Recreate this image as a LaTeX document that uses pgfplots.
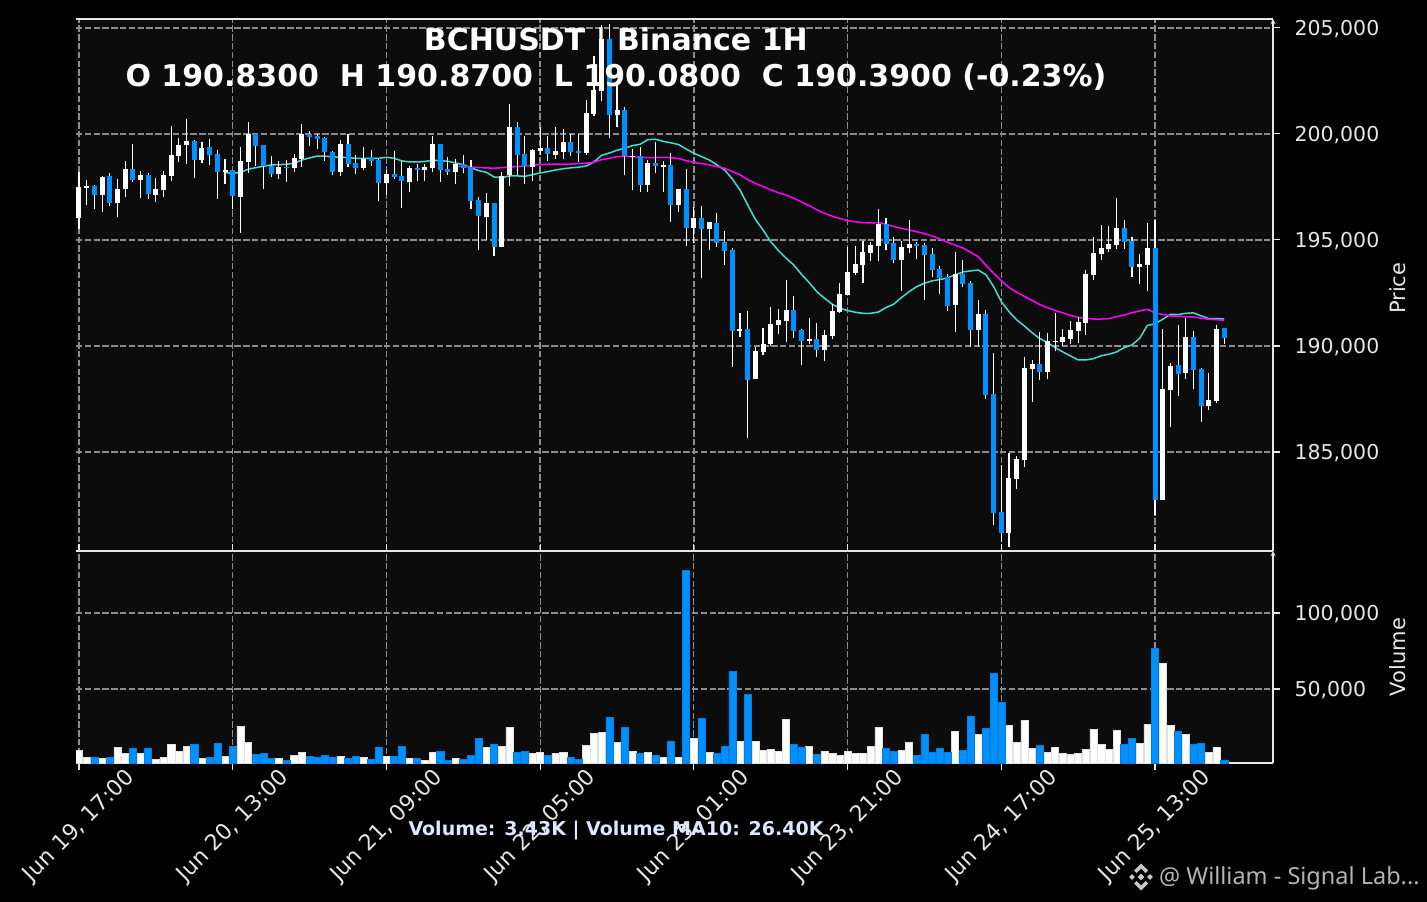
\documentclass[border=0pt]{standalone}
\usepackage{fontspec}
\setmainfont{DejaVu Sans}
\newfontfamily\wmfont{Noto Sans}
\usepackage{pgfplots}
\usepackage{pgfplotstable}
\pgfplotsset{compat=1.18}

\definecolor{panel}{HTML}{0C0C0C}
\definecolor{dnblue}{HTML}{0090FF}
\definecolor{gridc}{HTML}{8C8C8C}
\definecolor{spine}{HTML}{E6E6E6}
\definecolor{ma20}{HTML}{40E0D0}
\definecolor{ma50}{HTML}{FF00FF}
\definecolor{wmtext}{HTML}{B4B4B4}
\definecolor{wmlogo}{HTML}{C8C8C8}

% x open high low close volume, white candles
\pgfplotstableread{
x o h l c v
0 196.02 198.21 195.53 197.48 9870
1 197.44 197.85 196.65 197.53 5040
3 197.11 198.00 196.34 197.96 4390
5 196.73 197.89 196.08 197.39 11840
6 197.39 198.71 197.03 198.33 7890
8 197.81 198.27 197.00 198.05 7890
10 197.11 197.94 196.79 197.39 3950
11 197.34 198.27 197.03 198.05 5260
12 198.00 200.39 197.78 198.99 13820
13 198.95 199.83 198.68 199.47 9210
14 199.47 200.72 198.58 199.65 12500
16 198.76 199.61 198.63 199.32 4600
19 198.19 198.81 197.64 198.29 5920
21 197.01 199.37 195.33 198.71 25660
22 198.66 200.58 198.16 199.98 15130
26 198.10 198.74 197.89 198.43 4600
28 198.38 199.03 198.21 198.85 6580
29 198.81 200.46 198.44 199.98 8550
34 198.19 199.73 198.02 199.51 5920
37 198.38 199.37 198.29 198.81 5260
40 197.69 198.29 197.11 198.10 5920
43 197.72 198.49 197.26 198.38 4600
45 198.29 198.60 197.78 198.43 3290
46 198.38 199.92 198.21 199.51 8550
49 198.19 198.81 197.64 198.57 4600
53 196.07 197.20 194.98 196.73 11840
55 194.65 198.21 194.65 198.00 12500
56 198.05 201.43 197.56 200.31 25000
59 198.43 199.31 197.78 199.23 7890
60 199.18 200.33 198.99 199.32 8550
62 198.99 200.35 198.84 199.18 7890
63 199.14 200.25 198.84 199.61 8550
66 199.09 201.62 199.01 200.97 13160
67 200.93 203.69 200.85 202.06 21050
68 202.01 205.13 201.54 204.47 21710
70 200.88 202.37 200.33 201.12 15130
72 198.90 199.31 197.34 198.95 9210
74 197.58 198.76 197.26 198.62 8550
76 198.44 198.73 197.28 198.54 5260
78 196.65 197.41 196.34 197.41 5260
80 195.57 196.56 194.84 196.04 17760
82 195.52 195.85 194.54 195.85 8550
86 190.71 191.54 190.44 190.80 15790
88 188.44 189.97 188.44 189.76 15790
89 189.72 190.83 189.58 190.09 9870
90 190.09 191.82 190.00 191.04 10530
91 190.99 191.73 190.57 191.23 9210
92 191.18 193.10 190.20 191.70 30260
95 190.24 191.31 190.09 190.33 12500
97 189.81 190.74 189.31 190.52 9210
98 190.47 191.98 190.31 191.65 7890
99 191.60 192.96 191.56 192.45 6580
100 192.41 194.67 192.41 193.49 9210
101 193.44 194.70 193.35 193.87 7890
102 193.82 194.94 192.99 194.43 7890
103 194.39 194.92 193.99 194.76 12500
104 194.72 196.45 194.03 195.75 25000
107 194.06 194.95 192.61 194.67 9870
108 194.62 195.93 194.40 194.81 15130
114 191.93 194.45 190.68 193.40 22370
117 190.75 192.15 189.97 191.51 20390
121 181.18 184.94 180.53 183.77 26320
122 183.73 184.81 183.27 184.67 15130
123 184.62 189.47 184.28 188.96 29610
124 188.92 189.34 187.37 189.15 11180
126 188.77 190.60 188.46 190.24 8550
127 190.19 191.54 189.78 190.24 11840
128 190.19 190.79 190.00 190.42 7890
129 190.33 191.18 190.11 190.75 7240
130 190.71 191.38 190.16 191.13 7890
131 191.08 193.58 190.53 193.40 10530
132 193.35 195.13 193.11 194.39 23680
133 194.34 195.69 194.07 194.62 13820
134 194.58 195.64 194.45 194.81 10530
135 194.76 196.97 194.59 195.57 23030
138 193.73 194.32 192.94 193.87 14470
139 193.82 195.79 192.58 194.62 26970
141 182.74 190.79 182.74 187.97 67110
142 187.92 189.20 186.20 189.06 26320
144 188.73 191.31 188.46 190.42 20390
147 187.17 188.71 186.98 187.45 8550
148 187.41 190.97 187.30 190.80 11840
}\upbars

% same columns, blue candles
\pgfplotstableread{
x o h l c v
2 197.53 197.58 196.46 197.11 5040
4 198.00 198.18 196.60 196.73 5040
7 198.33 199.54 197.74 197.81 11180
9 198.05 198.18 196.93 197.15 11180
15 199.65 199.73 197.92 198.77 13820
17 199.37 199.78 198.54 198.99 5260
18 199.04 199.26 196.93 198.19 14470
20 198.29 198.32 196.48 197.06 12500
23 199.98 200.02 198.47 199.42 7240
24 199.47 199.50 197.41 198.47 7890
25 198.47 198.95 197.97 198.10 4600
27 198.43 198.79 197.74 198.38 3290
30 199.98 200.16 199.43 199.84 5920
31 199.89 200.02 199.29 199.75 5260
32 199.80 199.87 198.73 199.14 6580
33 199.14 199.18 198.07 198.19 5260
35 199.51 200.02 198.44 198.57 4600
36 198.62 198.99 198.11 198.38 5920
38 198.92 199.26 198.49 198.71 3950
39 198.76 198.81 196.86 197.69 11840
41 198.10 199.18 197.89 197.96 5920
42 198.00 198.71 196.53 197.77 12500
44 198.38 198.60 197.78 198.29 4600
47 199.51 199.51 197.74 198.29 9210
48 198.33 198.90 198.07 198.19 3290
50 198.57 198.99 198.16 198.40 3950
51 198.43 198.76 196.48 196.82 6580
52 196.87 197.01 194.54 196.12 17760
54 196.73 196.73 194.26 194.65 13820
57 200.31 200.55 198.05 198.99 8550
58 199.04 199.92 197.66 198.47 9210
61 199.32 199.92 198.73 199.04 6580
64 199.61 200.02 198.96 199.14 5260
65 199.18 200.02 198.68 199.09 3950
69 204.47 205.17 199.83 200.88 31580
71 201.12 201.27 198.05 198.95 25000
73 198.95 199.36 197.26 197.58 7890
75 198.62 199.64 198.16 198.47 6580
77 198.54 199.09 195.86 196.65 15790
79 197.41 198.33 194.73 195.57 128290
81 196.04 196.59 193.19 195.52 30920
83 195.80 196.26 194.67 194.86 7890
84 194.91 195.41 193.84 194.48 12500
85 194.53 194.62 189.03 190.71 61840
87 190.80 191.64 185.64 188.40 46710
93 191.70 192.34 190.39 190.71 13820
94 190.75 190.80 189.12 190.24 11840
96 190.33 191.07 189.50 189.81 7240
105 195.75 196.02 194.51 194.81 11180
106 194.86 195.13 193.93 194.06 9210
109 194.81 194.91 194.12 194.72 6580
110 194.76 194.86 192.19 194.29 20390
111 194.34 194.61 193.25 193.58 8550
112 193.63 193.77 192.47 193.21 11180
113 193.25 193.40 191.67 191.89 8550
115 193.40 194.04 192.80 192.92 9870
116 192.97 193.05 189.97 190.75 32240
118 191.51 191.68 187.50 187.69 24340
119 187.74 189.65 181.56 182.12 60530
120 182.17 184.39 180.77 181.18 41450
125 189.15 190.64 188.38 188.77 13160
136 195.57 195.93 194.59 194.91 13820
137 194.95 195.13 193.24 193.73 17760
140 194.62 195.93 182.01 182.74 76970
143 189.10 190.97 187.66 188.68 22370
145 190.42 190.71 187.97 188.87 13820
146 188.92 188.96 186.40 187.17 14470
149 190.83 190.87 190.08 190.39 3430
}\downbars

\begin{document}
\begin{tikzpicture}[x=1pt,y=1pt]
\useasboundingbox (0,0) rectangle (1427,-902);
\fill[black] (0,0) rectangle (1427,-902);

% price panel
\begin{axis}[
  at={(76pt,-551pt)}, anchor=south west,
  scale only axis, width=1197pt, height=532pt,
  xmin=-0.39, xmax=155.35, ymin=180.33, ymax=205.42,
  axis background/.style={fill=panel},
  axis line style={spine, line width=1.3pt},
  separate axis lines,
  axis y line=right, axis x line=box,
  xtick={0,20,40,60,80,100,120,140}, xticklabels={},
  xtick style={draw=none},
  ytick={185,190,195,200,205},
  yticklabels={{185,000},{190,000},{195,000},{200,000},{205,000}},
  ytick style={color=spine, line width=1.1pt},
  tick align=outside, major tick length=7pt,
  yticklabel style={text=spine, font=\fontsize{20.5}{24}\selectfont, xshift=11pt, yshift=-1.5pt},
  grid=major,
  major grid style={gridc, line width=1.4pt, dash pattern=on 6.4pt off 2.4pt},
  ylabel={Price},
  every axis y label/.style={at={(axis description cs:1.1044,0.494)}, rotate=90, anchor=center, text=spine, font=\fontsize{21}{24}\selectfont},
  title={BCHUSDT | Binance 1H\\O 190.8300\ \ H 190.8700\ \ L 190.0800\ \ C 190.3900 (-0.23\%)},
  title style={at={(axis description cs:0.451,1.0)}, anchor=north, yshift=-11pt, align=center, text=white, font=\bfseries\fontsize{30}{36}\selectfont},
]
\addplot[ma20, line width=1.5pt] coordinates {
(19,198.18)(20,198.14)(21,198.19)(22,198.33)(23,198.41)(24,198.47)(25,198.54)(26,198.55)(27,198.57)(28,198.62)
(29,198.77)(30,198.87)(31,198.95)(32,198.95)(33,198.92)(34,198.90)(35,198.88)(36,198.85)(37,198.84)(38,198.85)
(39,198.85)(40,198.90)(41,198.85)(42,198.73)(43,198.68)(44,198.68)(45,198.70)(46,198.76)(47,198.74)(48,198.71)
(49,198.63)(50,198.55)(51,198.40)(52,198.27)(53,198.19)(54,197.97)(55,197.94)(56,198.02)(57,198.02)(58,198.00)
(59,198.08)(60,198.16)(61,198.22)(62,198.30)(63,198.36)(64,198.40)(65,198.43)(66,198.49)(67,198.68)(68,198.99)
(69,199.10)(70,199.23)(71,199.32)(72,199.45)(73,199.51)(74,199.73)(75,199.75)(76,199.65)(77,199.58)(78,199.50)
(79,199.29)(80,199.09)(81,198.93)(82,198.77)(83,198.54)(84,198.30)(85,197.88)(86,197.36)(87,196.65)(88,195.97)
(89,195.47)(90,194.92)(91,194.50)(92,194.14)(93,193.82)(94,193.38)(95,192.99)(96,192.56)(97,192.25)(98,191.97)
(99,191.78)(100,191.67)(101,191.59)(102,191.54)(103,191.54)(104,191.60)(105,191.81)(106,191.97)(107,192.28)(108,192.56)
(109,192.80)(110,192.96)(111,193.07)(112,193.13)(113,193.21)(114,193.35)(115,193.49)(116,193.54)(117,193.58)(118,193.36)
(119,192.80)(120,192.09)(121,191.62)(122,191.23)(123,190.94)(124,190.63)(125,190.35)(126,190.16)(127,189.92)(128,189.72)
(129,189.53)(130,189.34)(131,189.34)(132,189.40)(133,189.54)(134,189.61)(135,189.72)(136,189.92)(137,190.05)(138,190.36)
(139,190.97)(140,191.04)(141,191.26)(142,191.49)(143,191.48)(144,191.54)(145,191.56)(146,191.42)(147,191.29)(148,191.29)
(149,191.27)
};
\addplot[ma50, line width=1.5pt] coordinates {
(49,198.47)(50,198.47)(51,198.44)(52,198.41)(53,198.40)(54,198.38)(55,198.41)(56,198.44)(57,198.46)(58,198.49)
(59,198.52)(60,198.55)(61,198.57)(62,198.57)(63,198.58)(64,198.58)(65,198.60)(66,198.62)(67,198.66)(68,198.79)
(69,198.85)(70,198.93)(71,198.95)(72,198.92)(73,198.90)(74,198.88)(75,198.88)(76,198.90)(77,198.88)(78,198.84)
(79,198.74)(80,198.66)(81,198.60)(82,198.54)(83,198.46)(84,198.38)(85,198.22)(86,198.07)(87,197.85)(88,197.67)
(89,197.52)(90,197.36)(91,197.23)(92,197.12)(93,196.97)(94,196.79)(95,196.62)(96,196.42)(97,196.26)(98,196.12)
(99,196.01)(100,195.91)(101,195.86)(102,195.82)(103,195.80)(104,195.82)(105,195.74)(106,195.63)(107,195.55)(108,195.47)
(109,195.39)(110,195.30)(111,195.19)(112,195.05)(113,194.89)(114,194.75)(115,194.62)(116,194.42)(117,194.21)(118,193.81)
(119,193.43)(120,193.08)(121,192.77)(122,192.53)(123,192.34)(124,192.15)(125,191.95)(126,191.81)(127,191.68)(128,191.56)
(129,191.45)(130,191.34)(131,191.31)(132,191.27)(133,191.27)(134,191.29)(135,191.38)(136,191.46)(137,191.57)(138,191.65)
(139,191.73)(140,191.56)(141,191.49)(142,191.42)(143,191.40)(144,191.38)(145,191.37)(146,191.31)(147,191.26)(148,191.24)
(149,191.21)
};
% wicks
\addplot[draw=none, mark=none, forget plot, error bars/.cd, y dir=plus, y explicit, error mark=none,
  error bar style={white, line width=1.1pt}]
  table[x=x, y=l, y error expr=\thisrow{h}-\thisrow{l}] {\upbars};
\addplot[draw=none, mark=none, forget plot, error bars/.cd, y dir=plus, y explicit, error mark=none,
  error bar style={white, line width=1.1pt}]
  table[x=x, y=l, y error expr=\thisrow{h}-\thisrow{l}] {\downbars};
% bodies
\addplot[draw=none, mark=none, forget plot, error bars/.cd, y dir=plus, y explicit, error mark=none,
  error bar style={white, line width=5pt}]
  table[x=x, y=o, y error expr=\thisrow{c}-\thisrow{o}] {\upbars};
\addplot[draw=none, mark=none, forget plot, error bars/.cd, y dir=plus, y explicit, error mark=none,
  error bar style={dnblue, line width=5pt}]
  table[x=x, y=c, y error expr=\thisrow{o}-\thisrow{c}] {\downbars};
\end{axis}

% volume panel
\begin{axis}[
  at={(76pt,-763pt)}, anchor=south west,
  scale only axis, width=1197pt, height=212pt,
  xmin=-0.39, xmax=155.35, ymin=1316, ymax=140790,
  axis background/.style={fill=panel},
  axis line style={spine, line width=1.3pt},
  separate axis lines,
  axis y line=right, axis x line=box,
  xtick={0,20,40,60,80,100,120,140},
  xticklabels={{Jun 19, 17:00},{Jun 20, 13:00},{Jun 21, 09:00},{Jun 22, 05:00},{Jun 23, 01:00},{Jun 23, 21:00},{Jun 24, 17:00},{Jun 25, 13:00}},
  xticklabel style={text=spine, font=\fontsize{22}{24}\selectfont, rotate=45, anchor=center, xshift=-39.2pt, yshift=-40pt},
  scaled y ticks=false,
  ytick={50000,100000},
  yticklabels={{50,000},{100,000}},
  ytick style={color=spine, line width=1.1pt},
  xtick style={color=spine, line width=1.1pt},
  tick align=outside, major tick length=7pt,
  yticklabel style={text=spine, font=\fontsize{20.5}{24}\selectfont, xshift=11pt, yshift=-1.5pt},
  grid=major,
  major grid style={gridc, line width=1.2pt, dash pattern=on 6.4pt off 2.4pt},
  ylabel={Volume},
  every axis y label/.style={at={(axis description cs:1.1044,0.5)}, rotate=90, anchor=center, text=spine, font=\fontsize{21}{24}\selectfont},
  ybar, bar width=7.1pt, bar shift=0pt,
]
\addplot[fill=white, draw=white!88!black, line width=0.5pt] table[x=x, y=v] {\upbars};
\addplot[fill=dnblue, draw=dnblue!88!black, line width=0.5pt] table[x=x, y=v] {\downbars};
\end{axis}

\node[text={rgb,255:red,220;green,232;blue,255}, font=\bfseries\fontsize{19}{22}\selectfont, anchor=center] at (616,-830) {Volume: 3.43K | Volume MA10: 26.40K};

% watermark with logo
\begin{scope}[shift={(1141,-877)}, fill=wmlogo]
  \fill (0,13.5) -- (7,6.5) -- (4.5,4) -- (0,8.5) -- (-4.5,4) -- (-7,6.5) -- cycle;
  \fill (0,-13.5) -- (7,-6.5) -- (4.5,-4) -- (0,-8.5) -- (-4.5,-4) -- (-7,-6.5) -- cycle;
  \fill (0,3.3) -- (3.3,0) -- (0,-3.3) -- (-3.3,0) -- cycle;
  \fill (-9,2.8) -- (-6.2,0) -- (-9,-2.8) -- (-11.8,0) -- cycle;
  \fill (9,2.8) -- (6.2,0) -- (9,-2.8) -- (11.8,0) -- cycle;
\end{scope}
\node[anchor=west, inner sep=0pt, text=wmtext, font=\wmfont\fontsize{23.5}{28}\selectfont] at (1159,-878) {@ William - Signal Lab...};
\end{tikzpicture}
\end{document}
